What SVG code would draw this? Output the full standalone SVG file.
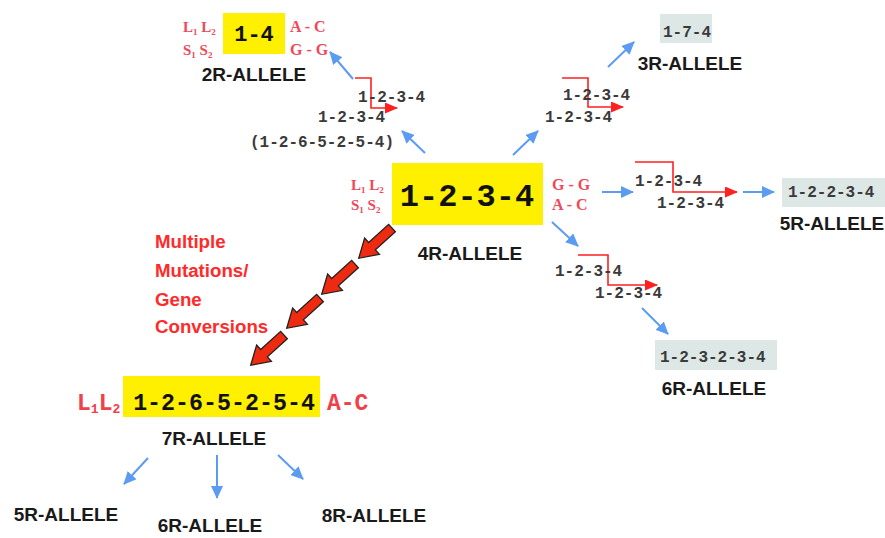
<svg xmlns="http://www.w3.org/2000/svg" width="885" height="538" viewBox="0 0 885 538">
<style>
.bg{fill:#ffffff}
.yb{fill:#fff000}
.gb{fill:#dde7e6}
.big{font-family:"Liberation Mono","Courier New",monospace;font-weight:bold;fill:#111}
.num{font-family:"Liberation Mono","Courier New",monospace;font-size:16px;font-weight:bold;fill:#3a3a3a}
.lab{font-family:"Liberation Sans",Arial,sans-serif;font-weight:bold;font-size:19px;fill:#1a1a1a;text-anchor:middle}
.rs{font-family:"Liberation Serif","Times New Roman",serif;font-weight:bold;fill:#f0485a}
.rm{font-family:"Liberation Mono","Courier New",monospace;font-weight:bold;fill:#f0404a}
.mut{font-family:"Liberation Sans",Arial,sans-serif;font-weight:bold;font-size:18.7px;fill:#ff2a2a}
.blue{stroke:#5b9cf2;stroke-width:2;fill:none;marker-end:url(#bh)}
.red{stroke:#ff2020;stroke-width:1.6;fill:none;marker-end:url(#rh)}
.blk{fill:#ee2a10;stroke:#222;stroke-width:1.3;stroke-linejoin:miter}
</style>
<defs>
<marker id="bh" markerUnits="userSpaceOnUse" markerWidth="13" markerHeight="12" viewBox="0 0 13 12" refX="12" refY="6" orient="auto">
<path d="M0,0 L13,6 L0,12 Z" fill="#5b9cf2"/>
</marker>
<marker id="rh" markerUnits="userSpaceOnUse" markerWidth="13" markerHeight="11" viewBox="0 0 13 11" refX="12" refY="5.5" orient="auto">
<path d="M0,0 L13,5.5 L0,11 Z" fill="#ff2020"/>
</marker>
<path id="blockArrow" d="M0,-5 L27,-5 L27,-11 L45,0 L27,11 L27,5 L0,5 Z"/>
</defs>
<rect class="bg" x="0" y="0" width="885" height="538"/>

<g id="connectors">
<path class="blue" d="M353,79 L330,52"/>
<path class="blue" d="M425,153 L402,131"/>
<path class="blue" d="M513,155 L538,131"/>
<path class="blue" d="M608,67 L634,42"/>
<path class="blue" d="M602,192 L633,192"/>
<path class="blue" d="M743,192 L774,192"/>
<path class="blue" d="M552,222 L578,246"/>
<path class="blue" d="M642,308 L668,334"/>
<path class="blue" d="M148,458 L124,484"/>
<path class="blue" d="M217,455 L217,498"/>
<path class="blue" d="M278,455 L303,479"/>
<path class="red" d="M355,78 H371 V108 H397"/>
<path class="red" d="M562,78 H588 V107 H623"/>
<path class="red" d="M635,162 H673 V192 H737"/>
<path class="red" d="M578,255 H608 V285 H657"/>
<use href="#blockArrow" class="blk" transform="translate(392,228) rotate(137.7)"/>
<use href="#blockArrow" class="blk" transform="translate(355,264) rotate(137.7)"/>
<use href="#blockArrow" class="blk" transform="translate(320,298) rotate(137.7)"/>
<use href="#blockArrow" class="blk" transform="translate(284,335) rotate(137.7)"/>
</g>

<g id="allele2R">
<rect class="yb" x="223" y="13" width="62" height="41"/>
<text class="big" x="254" y="41" font-size="22" text-anchor="middle">1-4</text>
<text class="rs" x="183" y="32" font-size="15">L<tspan font-size="9" dy="3">1</tspan><tspan dy="-3"> L</tspan><tspan font-size="9" dy="3">2</tspan></text>
<text class="rs" x="183" y="55" font-size="15">S<tspan font-size="9" dy="3">1</tspan><tspan dy="-3"> S</tspan><tspan font-size="9" dy="3">2</tspan></text>
<text class="rs" x="290" y="32" font-size="16">A - C</text>
<text class="rs" x="290" y="55" font-size="16">G - G</text>
<text class="lab" x="254" y="81">2R-ALLELE</text>
</g>

<g id="step2R">
<text class="num" x="358" y="102">1-2-3-4</text>
<text class="num" x="318" y="122">1-2-3-4</text>
<text class="num" x="250" y="147">(1-2-6-5-2-5-4)</text>
</g>

<g id="allele3R">
<rect class="gb" x="660" y="14" width="52" height="29"/>
<text class="num" x="663" y="37">1-7-4</text>
<text class="lab" x="690" y="70">3R-ALLELE</text>
</g>

<g id="step3R">
<text class="num" x="563" y="100">1-2-3-4</text>
<text class="num" x="545" y="122">1-2-3-4</text>
</g>

<g id="allele4R">
<rect class="yb" x="392" y="163" width="151" height="62"/>
<text class="big" x="467" y="206" font-size="32" text-anchor="middle">1-2-3-4</text>
<text class="rs" x="351" y="190" font-size="15">L<tspan font-size="9" dy="3">1</tspan><tspan dy="-3"> L</tspan><tspan font-size="9" dy="3">2</tspan></text>
<text class="rs" x="351" y="210" font-size="15">S<tspan font-size="9" dy="3">1</tspan><tspan dy="-3"> S</tspan><tspan font-size="9" dy="3">2</tspan></text>
<text class="rs" x="552" y="190" font-size="16">G - G</text>
<text class="rs" x="552" y="210" font-size="16">A - C</text>
<text class="lab" x="470" y="260">4R-ALLELE</text>
</g>

<g id="step5R">
<text class="num" x="635" y="186">1-2-3-4</text>
<text class="num" x="657" y="208">1-2-3-4</text>
</g>

<g id="allele5R">
<rect class="gb" x="782" y="178" width="103" height="29"/>
<text class="num" x="788" y="197">1-2-2-3-4</text>
<text class="lab" x="832" y="230">5R-ALLELE</text>
</g>

<g id="step6R">
<text class="num" x="555" y="276">1-2-3-4</text>
<text class="num" x="595" y="298">1-2-3-4</text>
</g>

<g id="allele6R">
<rect class="gb" x="655" y="340" width="122" height="30"/>
<text class="num" x="660" y="362">1-2-3-2-3-4</text>
<text class="lab" x="714" y="395">6R-ALLELE</text>
</g>

<g id="mutationsLabel">
<text class="mut" x="155" y="248">Multiple</text>
<text class="mut" x="155" y="277">Mutations/</text>
<text class="mut" x="155" y="306">Gene</text>
<text class="mut" x="155" y="333">Conversions</text>
</g>

<g id="allele7R">
<rect class="yb" x="123" y="376" width="197" height="41"/>
<text class="big" x="224" y="410" font-size="23.3" text-anchor="middle">1-2-6-5-2-5-4</text>
<text class="rm" x="77" y="410" font-size="23">L<tspan font-size="13" dy="3">1</tspan><tspan dy="-3">L</tspan><tspan font-size="13" dy="3">2</tspan></text>
<text class="rm" x="327" y="410" font-size="23">A-C</text>
<text class="lab" x="214" y="445">7R-ALLELE</text>
</g>

<g id="bottom5R"><text class="lab" x="66" y="521">5R-ALLELE</text></g>
<g id="bottom6R"><text class="lab" x="210" y="532">6R-ALLELE</text></g>
<g id="bottom8R"><text class="lab" x="374" y="522">8R-ALLELE</text></g>
</svg>
